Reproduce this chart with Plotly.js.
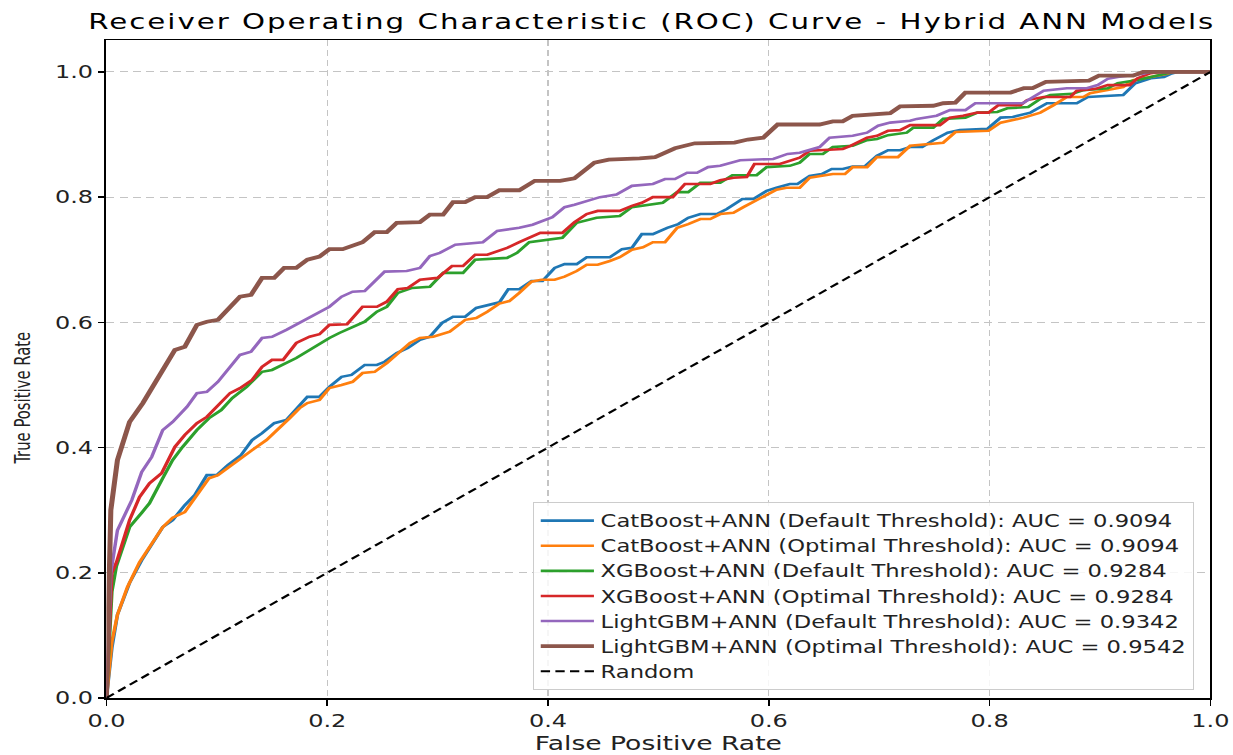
<!DOCTYPE html>
<html>
<head>
<meta charset="utf-8">
<script src="https://cdn.plot.ly/plotly-3.0.1.min.js"></script>
<style>
  html, body { margin: 0; padding: 0; background: #ffffff; overflow: hidden; }
  #wrap { width: 1233px; height: 755px; overflow: hidden; }
  #chart { width: 927px; height: 755px; transform: scaleX(1.3301); transform-origin: 0 0; }
  .gtitle { letter-spacing: 1.5px; }
</style>
</head>
<body>
<div id="wrap"><div id="chart"></div></div>
<script>
// ---- data (FPR / TPR) ----
const labels = [
  "CatBoost+ANN (Default Threshold): AUC = 0.9094",
  "CatBoost+ANN (Optimal Threshold): AUC = 0.9094",
  "XGBoost+ANN (Default Threshold): AUC = 0.9284",
  "XGBoost+ANN (Optimal Threshold): AUC = 0.9284",
  "LightGBM+ANN (Default Threshold): AUC = 0.9342",
  "LightGBM+ANN (Optimal Threshold): AUC = 0.9542",
  "Random"
];

const cbDefFpr = [0,0.005,0.010,0.021,0.032,0.042,0.051,0.060,0.071,0.080,0.091,0.100,0.110,0.122,0.132,0.141,0.152,0.163,0.175,0.182,0.193,0.202,0.213,0.222,0.234,0.245,0.252,0.263,0.273,0.284,0.293,0.304,0.314,0.325,0.335,0.347,0.356,0.364,0.374,0.385,0.395,0.406,0.415,0.426,0.435,0.456,0.467,0.476,0.485,0.495,0.508,0.518,0.527,0.538,0.553,0.562,0.576,0.586,0.598,0.607,0.619,0.626,0.637,0.648,0.657,0.667,0.676,0.687,0.698,0.708,0.719,0.728,0.739,0.749,0.762,0.773,0.798,0.810,0.821,0.837,0.852,0.879,0.889,0.921,0.932,0.946,0.958,0.964,0.970,1];
const cbDefTpr = [0,0.08,0.133,0.184,0.220,0.248,0.273,0.284,0.308,0.324,0.356,0.356,0.372,0.388,0.412,0.423,0.439,0.444,0.468,0.481,0.481,0.497,0.513,0.516,0.532,0.532,0.537,0.551,0.559,0.572,0.577,0.599,0.609,0.609,0.623,0.628,0.632,0.653,0.653,0.666,0.666,0.687,0.693,0.693,0.704,0.704,0.717,0.719,0.741,0.741,0.751,0.757,0.767,0.773,0.773,0.781,0.797,0.797,0.810,0.815,0.821,0.821,0.834,0.837,0.845,0.845,0.849,0.849,0.866,0.875,0.875,0.880,0.880,0.891,0.903,0.907,0.909,0.927,0.928,0.935,0.950,0.950,0.960,0.963,0.982,0.990,0.992,0.997,1.0,1];

const cbOptFpr = [0,0.005,0.010,0.019,0.030,0.042,0.051,0.060,0.071,0.082,0.093,0.101,0.113,0.123,0.132,0.145,0.155,0.166,0.175,0.182,0.193,0.202,0.213,0.223,0.232,0.243,0.254,0.266,0.275,0.284,0.296,0.311,0.325,0.335,0.345,0.356,0.365,0.374,0.385,0.394,0.406,0.415,0.426,0.435,0.445,0.456,0.465,0.476,0.486,0.495,0.506,0.517,0.527,0.538,0.547,0.556,0.568,0.577,0.588,0.598,0.607,0.616,0.628,0.637,0.648,0.658,0.669,0.676,0.689,0.698,0.717,0.728,0.758,0.769,0.799,0.810,0.831,0.846,0.858,0.870,0.885,0.891,0.921,0.930,0.946,0.961,0.966,1];
const cbOptTpr = [0,0.09,0.133,0.177,0.217,0.248,0.273,0.288,0.297,0.324,0.351,0.356,0.372,0.385,0.396,0.412,0.428,0.447,0.463,0.471,0.476,0.495,0.500,0.505,0.519,0.521,0.535,0.553,0.567,0.575,0.577,0.585,0.604,0.607,0.617,0.630,0.634,0.647,0.665,0.668,0.668,0.673,0.682,0.692,0.692,0.698,0.704,0.716,0.720,0.728,0.728,0.751,0.757,0.765,0.765,0.773,0.775,0.784,0.794,0.804,0.812,0.815,0.815,0.831,0.834,0.837,0.837,0.848,0.848,0.864,0.864,0.882,0.887,0.904,0.906,0.919,0.927,0.935,0.947,0.960,0.960,0.966,0.976,0.987,0.992,0.997,1.0,1];

const xgbDefFpr = [0,0.005,0.009,0.021,0.032,0.039,0.051,0.060,0.069,0.082,0.093,0.104,0.114,0.127,0.141,0.150,0.172,0.184,0.202,0.211,0.223,0.234,0.245,0.254,0.264,0.277,0.293,0.305,0.323,0.334,0.363,0.372,0.383,0.399,0.413,0.426,0.444,0.465,0.476,0.504,0.517,0.527,0.538,0.556,0.567,0.589,0.598,0.619,0.628,0.637,0.649,0.658,0.676,0.689,0.698,0.708,0.725,0.731,0.749,0.758,0.778,0.789,0.807,0.816,0.835,0.846,0.855,0.875,0.885,0.907,0.916,0.934,0.946,0.961,0.966,1];
const xgbDefTpr = [0,0.17,0.21,0.273,0.296,0.311,0.351,0.380,0.401,0.428,0.447,0.460,0.479,0.497,0.521,0.524,0.543,0.556,0.575,0.583,0.593,0.601,0.617,0.625,0.647,0.655,0.657,0.679,0.679,0.700,0.703,0.711,0.728,0.732,0.735,0.759,0.767,0.770,0.784,0.791,0.808,0.808,0.823,0.823,0.835,0.835,0.848,0.850,0.855,0.869,0.869,0.880,0.882,0.891,0.893,0.899,0.903,0.911,0.911,0.925,0.927,0.935,0.936,0.942,0.944,0.957,0.963,0.965,0.971,0.974,0.982,0.987,0.992,0.997,1.0,1];

const xgbOptFpr = [0,0.005,0.009,0.021,0.030,0.039,0.050,0.062,0.071,0.082,0.091,0.101,0.112,0.121,0.132,0.141,0.150,0.160,0.172,0.184,0.193,0.202,0.218,0.232,0.245,0.254,0.264,0.273,0.284,0.300,0.313,0.323,0.334,0.345,0.363,0.374,0.383,0.393,0.413,0.424,0.435,0.445,0.465,0.476,0.485,0.495,0.513,0.524,0.547,0.556,0.568,0.580,0.587,0.610,0.628,0.637,0.667,0.674,0.689,0.698,0.708,0.719,0.728,0.755,0.764,0.776,0.789,0.799,0.808,0.828,0.834,0.849,0.873,0.879,0.896,0.907,0.927,0.934,0.946,0.955,1];
const xgbOptTpr = [0,0.20,0.216,0.284,0.321,0.343,0.359,0.401,0.420,0.439,0.449,0.468,0.487,0.495,0.508,0.529,0.540,0.540,0.567,0.577,0.581,0.596,0.597,0.625,0.625,0.633,0.653,0.655,0.668,0.671,0.690,0.690,0.708,0.708,0.719,0.728,0.735,0.743,0.743,0.760,0.773,0.778,0.778,0.786,0.791,0.800,0.800,0.821,0.821,0.827,0.831,0.832,0.853,0.853,0.863,0.874,0.877,0.882,0.895,0.898,0.906,0.907,0.915,0.915,0.927,0.930,0.935,0.935,0.947,0.947,0.955,0.960,0.960,0.970,0.973,0.979,0.979,0.990,0.998,1.0,1];

const lgbDefFpr = [0,0.004,0.010,0.023,0.032,0.041,0.051,0.060,0.073,0.082,0.091,0.101,0.121,0.131,0.141,0.150,0.163,0.175,0.202,0.213,0.223,0.234,0.252,0.272,0.284,0.293,0.302,0.316,0.341,0.354,0.374,0.386,0.404,0.415,0.424,0.447,0.462,0.476,0.495,0.506,0.515,0.526,0.535,0.545,0.556,0.574,0.604,0.617,0.628,0.646,0.655,0.676,0.689,0.699,0.710,0.728,0.734,0.752,0.764,0.778,0.787,0.830,0.839,0.849,0.870,0.888,0.898,0.907,0.916,0.939,0.946,1];
const lgbDefTpr = [0,0.20,0.268,0.316,0.361,0.385,0.428,0.441,0.465,0.487,0.489,0.505,0.548,0.553,0.575,0.577,0.588,0.599,0.625,0.641,0.649,0.650,0.681,0.682,0.687,0.706,0.711,0.724,0.728,0.746,0.751,0.756,0.768,0.784,0.788,0.800,0.804,0.818,0.821,0.829,0.829,0.839,0.839,0.848,0.850,0.859,0.861,0.869,0.871,0.880,0.895,0.898,0.903,0.914,0.919,0.922,0.925,0.930,0.939,0.939,0.950,0.950,0.960,0.970,0.974,0.974,0.979,0.989,0.992,0.997,1.0,1];

const lgbOptFpr = [0,0.004,0.010,0.021,0.033,0.051,0.062,0.071,0.082,0.091,0.101,0.121,0.131,0.141,0.152,0.161,0.172,0.182,0.193,0.202,0.214,0.232,0.243,0.254,0.263,0.284,0.293,0.305,0.314,0.325,0.334,0.345,0.356,0.374,0.388,0.411,0.424,0.442,0.455,0.483,0.497,0.515,0.533,0.569,0.581,0.595,0.608,0.646,0.658,0.667,0.676,0.710,0.719,0.749,0.758,0.769,0.778,0.819,0.831,0.839,0.851,0.890,0.899,0.930,0.939,1];
const lgbOptTpr = [0,0.30,0.38,0.441,0.471,0.524,0.556,0.561,0.596,0.601,0.604,0.641,0.644,0.671,0.671,0.687,0.687,0.700,0.705,0.717,0.717,0.728,0.744,0.744,0.759,0.760,0.772,0.772,0.792,0.792,0.80,0.80,0.811,0.811,0.826,0.826,0.830,0.855,0.860,0.862,0.864,0.878,0.886,0.887,0.892,0.895,0.916,0.916,0.921,0.921,0.930,0.934,0.945,0.946,0.950,0.951,0.967,0.967,0.974,0.974,0.984,0.986,0.994,0.994,1.0,1];

const randomFpr = [0, 1];
const randomTpr = [0, 1];

const xTicks = [0, 0.2, 0.4, 0.6, 0.8, 1.0];
const yTicks = [0, 0.2, 0.4, 0.6, 0.8, 1.0];

// ---- styles ----
const colors = ["#1f77b4", "#ff7f0e", "#2ca02c", "#d62728", "#9467bd", "#8c564b", "#000000"];
const widths = [2.6, 2.6, 2.6, 2.6, 2.6, 3.8, 2];

const series = [
  [cbDefFpr, cbDefTpr], [cbOptFpr, cbOptTpr], [xgbDefFpr, xgbDefTpr],
  [xgbOptFpr, xgbOptTpr], [lgbDefFpr, lgbDefTpr], [lgbOptFpr, lgbOptTpr],
  [randomFpr, randomTpr]
];

const traces = series.map((s, i) => ({
  type: "scatter",
  mode: "lines",
  x: s[0],
  y: s[1],
  name: labels[i],
  line: { color: colors[i], width: widths[i], dash: i === 6 ? "7px,4px" : "solid" },
  hoverinfo: "skip"
}));

const font = "DejaVu Sans, Verdana, sans-serif";

const layout = {
  width: 927,
  height: 755,
  margin: { l: 80, r: 17, t: 40, b: 57, pad: 0 },
  paper_bgcolor: "#ffffff",
  plot_bgcolor: "#ffffff",
  font: { family: font, color: "#000000", size: 18 },
  showlegend: true,
  title: {
    text: "Receiver Operating Characteristic (ROC) Curve - Hybrid ANN Models",
    font: { family: font, size: 22, color: "#000000" },
    x: 0.494, xref: "paper", xanchor: "center",
    y: 0.972, yref: "container", yanchor: "middle"
  },
  xaxis: {
    range: [0, 1],
    tickvals: xTicks,
    tickformat: ".1f",
    ticks: "outside", ticklen: 6, tickwidth: 1.2, tickcolor: "#000000",
    showline: true, linecolor: "#000000", linewidth: 1.5, mirror: true,
    showgrid: true, gridcolor: "#c4c4c4", gridwidth: 1, griddash: "6px,4px",
    zeroline: false,
    tickfont: { family: font, size: 18, color: "#222222" },
    title: { text: "False Positive Rate", font: { family: font, size: 20, color: "#222222" }, standoff: 7 }
  },
  yaxis: {
    range: [0, 1.051],
    tickvals: yTicks,
    tickformat: ".1f",
    ticks: "outside", ticklen: 5, tickwidth: 1.5, tickcolor: "#000000",
    showline: true, linecolor: "#000000", linewidth: 1.5, mirror: true,
    showgrid: true, gridcolor: "#c4c4c4", gridwidth: 1, griddash: "6px,4px",
    zeroline: false,
    tickfont: { family: font, size: 18, color: "#222222" },
    title: { text: "" }
  },
  annotations: [{
    text: "True Positive Rate",
    textangle: -90,
    xref: "paper", yref: "paper",
    x: 0, y: 0.455,
    xanchor: "center", yanchor: "middle",
    xshift: -63,
    showarrow: false,
    font: { family: "Liberation Sans Narrow, DejaVu Sans Condensed, Roboto, sans-serif", size: 16.5, color: "#222222" }
  }],
  legend: {
    x: 0.985, y: 0.012, xanchor: "right", yanchor: "bottom",
    bgcolor: "rgba(255,255,255,0.85)",
    bordercolor: "#cccccc", borderwidth: 1,
    font: { family: font, size: 17, color: "#222222" },
    itemwidth: 40,
    tracegroupgap: 0
  }
};

Plotly.newPlot("chart", traces, layout, { displayModeBar: false, staticPlot: true });
</script>
</body>
</html>
